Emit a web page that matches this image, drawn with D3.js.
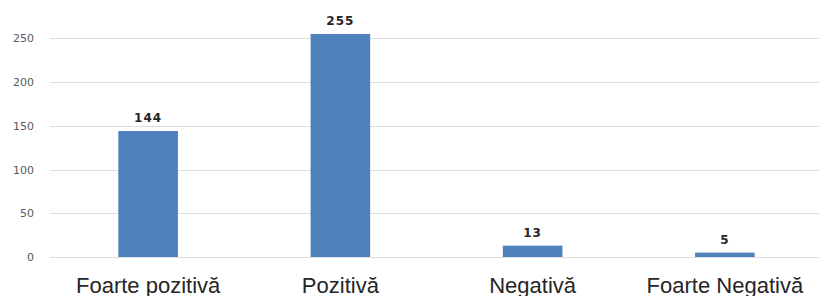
<!DOCTYPE html>
<html><head><meta charset="utf-8">
<script src="https://cdn.jsdelivr.net/npm/d3@7"></script>
<style>body{margin:0;background:#fff}svg{display:block}</style>
</head><body>
<svg id="c" width="819" height="296"></svg>
<script>
const categories = ["Foarte pozitivă", "Pozitivă", "Negativă", "Foarte Negativă"];
const values = [144, 255, 13, 5];
const yTicks = [0, 50, 100, 150, 200, 250];

const svg = d3.select("#c");
const W = 819, H = 296;
const x = d3.scaleBand().domain(categories).range([52, 821]).paddingInner(0.69).paddingOuter(0.345);
const y = d3.scaleLinear().domain([0, 250]).range([257, 38.3]);

// gridlines
svg.append("g").selectAll("line").data(yTicks).join("line")
  .attr("x1", 50).attr("x2", W)
  .attr("y1", d => Math.round(y(d)) + 0.5).attr("y2", d => Math.round(y(d)) + 0.5)
  .attr("stroke", "#dedede").attr("stroke-width", 1);

// y tick labels
svg.append("g").selectAll("text").data(yTicks).join("text")
  .attr("x", 34).attr("y", d => y(d) + 4)
  .attr("text-anchor", "end")
  .attr("font-family", "DejaVu Sans, sans-serif").attr("font-size", 11)
  .attr("fill", "#595959").text(d => d);

// bars
svg.append("g").selectAll("rect").data(values).join("rect")
  .attr("x", (d, i) => x(categories[i])).attr("width", x.bandwidth())
  .attr("y", d => y(d)).attr("height", d => y(0) - y(d))
  .attr("fill", "#4f81bd");

// data labels
svg.append("g").selectAll("text").data(values).join("text")
  .attr("x", (d, i) => x(categories[i]) + x.bandwidth() / 2)
  .attr("y", d => y(d) - 9)
  .attr("text-anchor", "middle")
  .attr("font-family", "DejaVu Sans, sans-serif").attr("font-size", 12).attr("font-weight", "bold")
  .attr("letter-spacing", 1)
  .attr("fill", "#262626").text(d => d);

// category labels
svg.append("g").selectAll("text").data(categories).join("text")
  .attr("x", d => x(d) + x.bandwidth() / 2)
  .attr("y", 293)
  .attr("text-anchor", "middle")
  .attr("font-family", "Liberation Sans, sans-serif").attr("font-size", 22)
  .attr("fill", "#262626").text(d => d);
</script>
</body></html>
